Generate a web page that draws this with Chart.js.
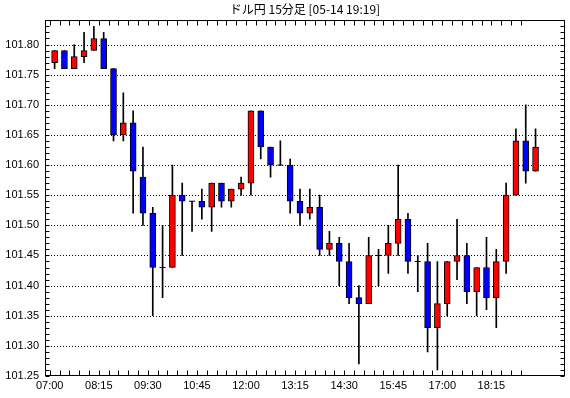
<!DOCTYPE html>
<html><head><meta charset="utf-8">
<script src="https://cdn.jsdelivr.net/npm/chart.js@4"></script>
<style>html,body{margin:0;padding:0;background:#fff}canvas{display:block}</style>
</head><body>
<canvas id="c" width="570" height="398"></canvas>
<script>
const titleText = 'ドル円 15分足 [05-14 19:19]';
const times = ['07:00','07:15','07:30','07:45','08:00','08:15','08:30','08:45','09:00','09:15',
  '09:30','09:45','10:00','10:15','10:30','10:45','11:00','11:15','11:30','11:45',
  '12:00','12:15','12:30','12:45','13:00','13:15','13:30','13:45','14:00','14:15',
  '14:30','14:45','15:00','15:15','15:30','15:45','16:00','16:15','16:30','16:45',
  '17:00','17:15','17:30','17:45','18:00','18:15','18:30','18:45','19:00','19:15'];
const xTickLabels = ['07:00','08:15','09:30','10:45','12:00','13:15','14:30','15:45','17:00','18:15'];
const yTickLabels = ['101.25','101.30','101.35','101.40','101.45','101.50','101.55','101.60','101.65','101.70','101.75','101.80'];

const openV  = [101.77,101.79,101.76,101.78,101.79,101.81,101.76,101.65,101.67,101.58,
  101.52,101.43,101.43,101.55,101.54,101.54,101.53,101.57,101.54,101.56,
  101.57,101.69,101.63,101.60,101.60,101.54,101.52,101.53,101.46,101.47,
  101.44,101.38,101.37,101.45,101.45,101.47,101.51,101.44,101.44,101.33,
  101.37,101.44,101.45,101.39,101.43,101.38,101.44,101.55,101.64,101.59];
const highV  = [101.79,101.79,101.80,101.82,101.83,101.82,101.76,101.72,101.69,101.63,
  101.53,101.50,101.60,101.57,101.54,101.56,101.57,101.57,101.56,101.58,
  101.69,101.69,101.63,101.64,101.61,101.56,101.56,101.55,101.49,101.48,
  101.47,101.40,101.48,101.46,101.50,101.60,101.52,101.45,101.47,101.44,
  101.44,101.51,101.47,101.43,101.48,101.46,101.57,101.66,101.70,101.66];
const lowV   = [101.76,101.76,101.76,101.77,101.79,101.76,101.64,101.64,101.52,101.50,
  101.35,101.38,101.43,101.45,101.49,101.51,101.49,101.53,101.53,101.55,
  101.55,101.61,101.58,101.60,101.52,101.50,101.51,101.45,101.45,101.40,
  101.37,101.27,101.37,101.40,101.42,101.45,101.42,101.39,101.29,101.26,
  101.35,101.41,101.37,101.35,101.36,101.33,101.42,101.55,101.57,101.59];
const closeV = [101.79,101.76,101.78,101.79,101.81,101.76,101.65,101.67,101.59,101.52,
  101.43,101.43,101.55,101.54,101.54,101.53,101.57,101.54,101.56,101.57,
  101.69,101.63,101.60,101.60,101.54,101.52,101.53,101.46,101.47,101.44,
  101.38,101.37,101.45,101.45,101.47,101.51,101.44,101.44,101.33,101.37,
  101.44,101.45,101.39,101.43,101.38,101.44,101.55,101.64,101.59,101.63];

const UP = '#ff0000', DOWN = '#0000ff';
const wickData = times.map((t,i)=>({x:i, y:[lowV[i], highV[i]]}));
const bodyData = times.map((t,i)=> openV[i]===closeV[i] ? {x:i, y:null} : {x:i, y:[Math.min(openV[i],closeV[i]), Math.max(openV[i],closeV[i])]});
const bodyColors = times.map((t,i)=> closeV[i] > openV[i] ? UP : DOWN);
const dojiData = times.map((t,i)=> openV[i]===closeV[i] ? {x:i, y:openV[i]} : null).filter(p=>p);

const frame = {
  id:'frame',
  beforeDatasetsDraw(chart){
    const {ctx, chartArea:a, scales:{y}} = chart;
    ctx.save();
    ctx.strokeStyle = '#000'; ctx.lineWidth = 1; ctx.setLineDash([1,2]);
    ctx.beginPath();
    y.ticks.forEach(t=>{
      if (!yTickLabels.includes(t.value.toFixed(2))) return;
      const py = Math.round(y.getPixelForValue(t.value)) + 0.5;
      if (py > a.bottom - 2) return;
      ctx.moveTo(a.left, py); ctx.lineTo(a.right, py);
    });
    ctx.stroke();
    ctx.restore();
  },
  afterDraw(chart){
    const {ctx, chartArea:a, scales:{x,y}} = chart;
    const L = Math.round(a.left)+0.5, R = Math.round(a.right)-0.5, T = Math.round(a.top)+0.5, B = Math.round(a.bottom)-0.5;
    ctx.save();
    ctx.strokeStyle = '#000'; ctx.lineWidth = 1;
    ctx.beginPath();
    x.ticks.forEach(t=>{
      const px = Math.round(x.getPixelForValue(t.value)) + 0.5;
      ctx.moveTo(px, B); ctx.lineTo(px, B-5);
      ctx.moveTo(px, T); ctx.lineTo(px, T+5);
    });
    y.ticks.forEach(t=>{
      const py = Math.round(y.getPixelForValue(t.value)) + 0.5;
      ctx.moveTo(L, py); ctx.lineTo(L+4, py);
      ctx.moveTo(R, py); ctx.lineTo(R-4, py);
    });
    ctx.stroke();
    ctx.strokeRect(L, T, R-L, B-T);
    ctx.restore();
  }
};

new Chart(document.getElementById('c'), {
  type:'bar',
  data:{
    datasets:[
      {type:'bar', data:wickData, backgroundColor:'#000', barThickness:1, grouped:false, order:3},
      {type:'bar', data:bodyData, backgroundColor:bodyColors, borderColor:'#000', borderWidth:1, borderSkipped:false, barThickness:6, grouped:false, order:2},
      {type:'scatter', data:dojiData, pointStyle:'line', radius:3, borderColor:'#000', borderWidth:1, order:1}
    ]
  },
  options:{
    responsive:false, animation:false, devicePixelRatio:1,
    layout:{padding:{right:5, left:0, top:0, bottom:0}},
    plugins:{
      legend:{display:false}, tooltip:{enabled:false},
      title:{display:true, text:titleText, fullSize:false, color:'#000',
        font:{family:'"Noto Sans CJK JP", sans-serif', size:12, weight:'normal'}, padding:{top:2, bottom:4}}
    },
    scales:{
      x:{type:'linear', min:-0.98, max:52, offset:false,
        grid:{display:false, drawTicks:false}, border:{display:false},
        afterBuildTicks(scale){ scale.ticks = times.slice(0, times.length-1).map((t,i)=>({value:i-0.5})); },
        afterFit(scale){ scale.height = 22; },
        ticks:{autoSkip:false, maxRotation:0, padding:3, color:'#000',
          font:{family:'"Liberation Sans", Arial, sans-serif', size:11},
          callback(v){ const t = times[Math.round(v+0.5)]; return xTickLabels.includes(t) ? t : ''; }}
      },
      y:{type:'linear', min:101.25, max:101.84,
        grid:{display:false, drawTicks:false}, border:{display:false},
        afterFit(scale){ scale.width = 45; },
        ticks:{stepSize:0.01, autoSkip:false, padding:6, color:'#000',
          font:{family:'"Liberation Sans", Arial, sans-serif', size:11},
          callback(v){ const s = Number(v).toFixed(2); return yTickLabels.includes(s) ? s : ''; }}
      }
    }
  },
  plugins:[frame]
});
</script>
</body></html>
